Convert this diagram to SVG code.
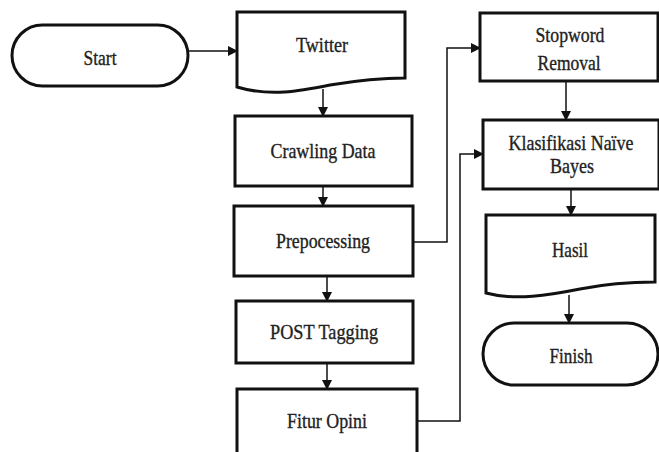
<svg xmlns="http://www.w3.org/2000/svg" width="659" height="452" viewBox="0 0 659 452">
<style>
.box{fill:#fff;stroke:#111;stroke-width:3;stroke-linejoin:miter}
.ln{fill:none;stroke:#111;stroke-width:1.5}
text{font-family:"Liberation Serif","Times New Roman",serif;font-size:21px;fill:#222;stroke:#222;stroke-width:0.35;text-anchor:middle}
</style>
<defs>
<marker id="ah" markerWidth="10" markerHeight="10" refX="9" refY="5" orient="auto" markerUnits="userSpaceOnUse">
<path d="M0,0 L10,5 L0,10 Z" fill="#111"/>
</marker>
</defs>
<rect width="659" height="452" fill="#fff"/>
<g id="connectors">
<line class="ln" x1="188" y1="51" x2="237" y2="51" marker-end="url(#ah)"/>
<line class="ln" x1="323" y1="89" x2="323" y2="116" marker-end="url(#ah)"/>
<line class="ln" x1="323" y1="186" x2="323" y2="206" marker-end="url(#ah)"/>
<line class="ln" x1="327" y1="276" x2="327" y2="301" marker-end="url(#ah)"/>
<line class="ln" x1="327" y1="363" x2="327" y2="389" marker-end="url(#ah)"/>
<polyline class="ln" points="413,242 447,242 447,48 480,48" marker-end="url(#ah)"/>
<polyline class="ln" points="417,421 460,421 460,154 483,154" marker-end="url(#ah)"/>
<line class="ln" x1="566" y1="81" x2="566" y2="120" marker-end="url(#ah)"/>
<line class="ln" x1="571" y1="189" x2="571" y2="215" marker-end="url(#ah)"/>
<line class="ln" x1="569" y1="295" x2="569" y2="323" marker-end="url(#ah)"/>
</g>
<g id="start">
<rect class="box" x="12" y="25" width="176" height="61" rx="30.5"/>
<text x="100" y="65" textLength="33" lengthAdjust="spacingAndGlyphs">Start</text>
</g>
<g id="twitter">
<path class="box" d="M237,12 H405 V78 C390,78 360,80 330,85 C300,91 270,97 237,87 Z"/>
<text x="322" y="52" textLength="52" lengthAdjust="spacingAndGlyphs">Twitter</text>
</g>
<g id="crawling">
<rect class="box" x="235" y="116" width="177" height="70"/>
<text x="323" y="158" textLength="105" lengthAdjust="spacingAndGlyphs">Crawling Data</text>
</g>
<g id="prepocessing">
<rect class="box" x="234" y="206" width="179" height="70"/>
<text x="323" y="248" textLength="94" lengthAdjust="spacingAndGlyphs">Prepocessing</text>
</g>
<g id="post">
<rect class="box" x="236" y="301" width="177" height="62"/>
<text x="324" y="339" textLength="108" lengthAdjust="spacingAndGlyphs">POST Tagging</text>
</g>
<g id="fitur">
<rect class="box" x="237" y="389" width="180" height="70"/>
<text x="327" y="428" textLength="80" lengthAdjust="spacingAndGlyphs">Fitur Opini</text>
</g>
<g id="stopword">
<rect class="box" x="480" y="13" width="178" height="68"/>
<text x="570" y="42" textLength="69" lengthAdjust="spacingAndGlyphs">Stopword</text>
<text x="569" y="70" textLength="63" lengthAdjust="spacingAndGlyphs">Removal</text>
</g>
<g id="klasifikasi">
<rect class="box" x="483" y="120" width="176" height="69"/>
<text x="571" y="150" textLength="125" lengthAdjust="spacingAndGlyphs">Klasifikasi Naïve</text>
<text x="572" y="173" textLength="44" lengthAdjust="spacingAndGlyphs">Bayes</text>
</g>
<g id="hasil">
<path class="box" d="M486,215 H655 V282 C640,282 610,283 580,289 C550,295 515,301 486,293 Z"/>
<text x="570" y="257" textLength="36" lengthAdjust="spacingAndGlyphs">Hasil</text>
</g>
<g id="finish">
<rect class="box" x="483" y="323" width="175" height="62" rx="31"/>
<text x="571" y="363" textLength="43" lengthAdjust="spacingAndGlyphs">Finish</text>
</g>
</svg>
